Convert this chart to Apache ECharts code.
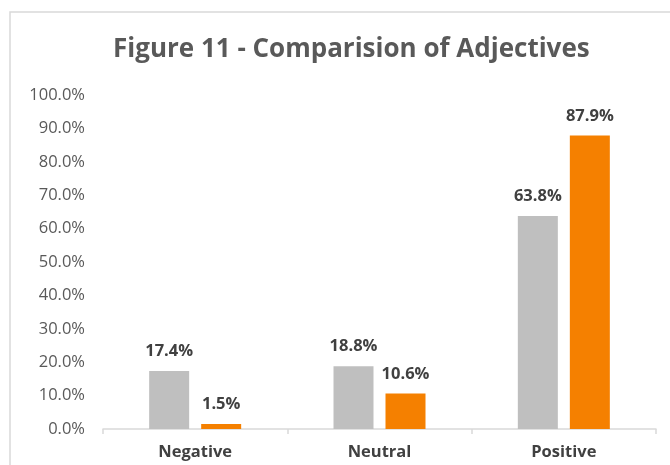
<!DOCTYPE html>
<html>
<head>
<meta charset="utf-8">
<script src="https://cdn.jsdelivr.net/npm/echarts@6/dist/echarts.min.js"></script>
<style>
  html, body { margin: 0; padding: 0; background: #fff; }
  #chart { width: 670px; height: 465px; }
</style>
</head>
<body>
<div id="chart"></div>
<script>
// Share of adjectives per sentiment class, two sources compared
const categories = ['Negative', 'Neutral', 'Positive'];
const seriesA = [17.4, 18.8, 63.8];
const seriesB = [1.5, 10.6, 87.9];
const yTicks = [0, 10, 20, 30, 40, 50, 60, 70, 80, 90, 100];

const FONT = '"Open Sans", "Liberation Sans", sans-serif';

const chart = echarts.init(document.getElementById('chart'), null, { renderer: 'canvas' });

const labelStyle = {
  show: true,
  position: 'top',
  distance: 11,
  fontFamily: FONT,
  fontSize: 16.5,
  fontWeight: 'bold',
  color: '#404040',
  formatter: p => p.value.toFixed(1) + '%'
};

chart.setOption({
  animation: false,
  backgroundColor: '#ffffff',
  graphic: [{
    type: 'rect',
    shape: { x: 10, y: 12, width: 700, height: 500 },
    style: { fill: 'none', stroke: '#d9d9d9', lineWidth: 1.5 },
    silent: true
  }],
  title: {
    text: 'Figure 11 - Comparision of Adjectives',
    left: 108,
    top: 32,
    textStyle: { fontFamily: FONT, fontSize: 26, fontWeight: 'bold', color: '#595959' }
  },
  grid: { left: 103, right: 14, top: 95, bottom: 36, containLabel: false },
  xAxis: {
    type: 'category',
    data: categories,
    axisLine: { lineStyle: { color: '#d9d9d9', width: 1.5 } },
    axisTick: { show: true, length: 5, lineStyle: { color: '#d9d9d9', width: 1.5 } },
    axisLabel: { margin: 15, fontFamily: FONT, fontSize: 16.5, fontWeight: 'bold', color: '#404040' }
  },
  yAxis: {
    type: 'value',
    min: yTicks[0],
    max: yTicks[yTicks.length - 1],
    interval: yTicks[1] - yTicks[0],
    splitLine: { show: false },
    axisLine: { show: false },
    axisTick: { show: false },
    axisLabel: {
      margin: 18,
      fontFamily: FONT,
      fontSize: 16.5,
      color: '#595959',
      formatter: v => v.toFixed(1) + '%'
    }
  },
  series: [
    {
      type: 'bar',
      data: seriesA,
      barWidth: '21.7%',
      barGap: '30%',
      itemStyle: { color: '#bfbfbf' },
      label: labelStyle
    },
    {
      type: 'bar',
      data: seriesB,
      barWidth: '21.7%',
      itemStyle: { color: '#f58000' },
      label: labelStyle
    }
  ]
});
</script>
</body>
</html>
